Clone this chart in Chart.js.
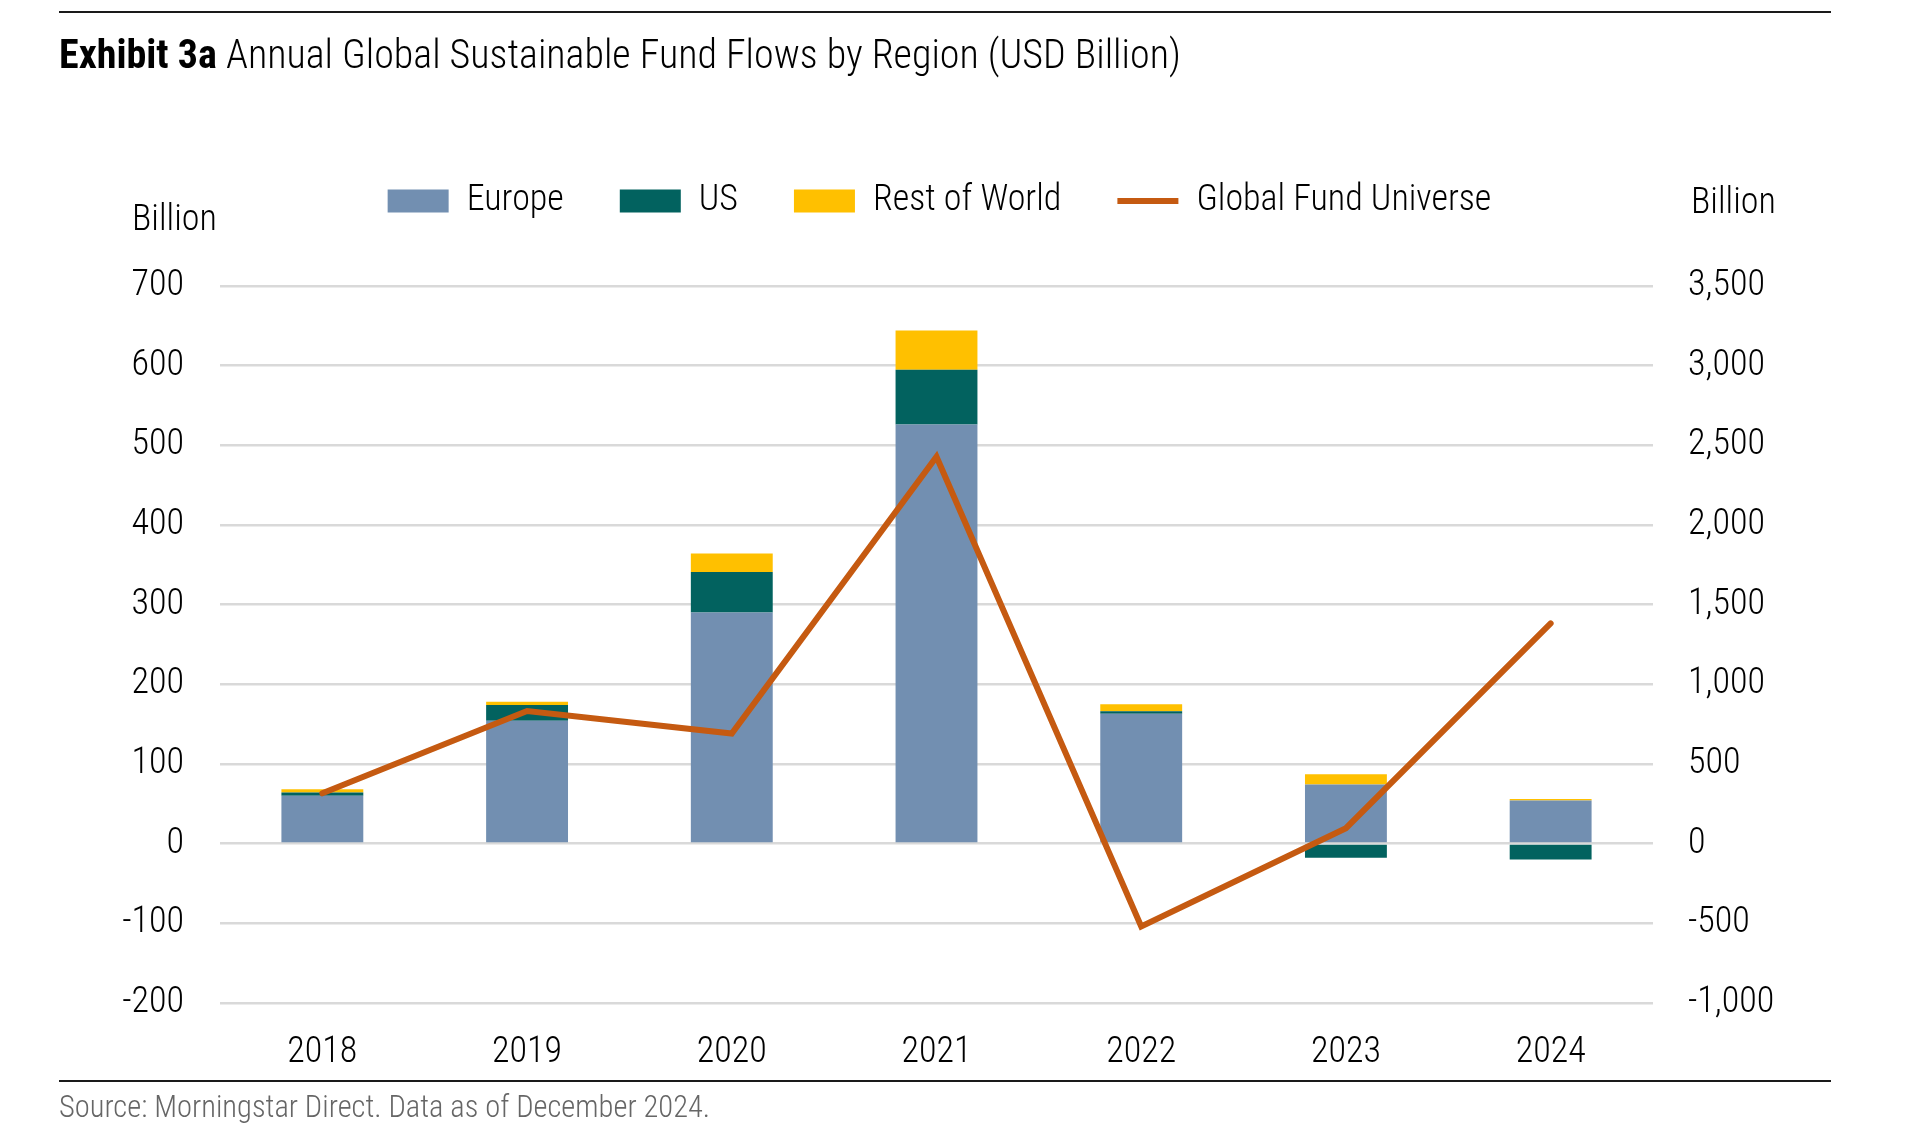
<!DOCTYPE html>
<html>
<head>
<meta charset="utf-8">
<script src="https://cdn.jsdelivr.net/npm/chart.js@4"></script>
<style>
  html, body { margin:0; padding:0; background:#fff; }
  #page { position:relative; width:1920px; height:1129px; overflow:hidden;
          font-family:"Roboto Condensed","Open Sans",sans-serif; }
  #wrap { position:absolute; left:0; top:0; width:1920px; height:1129px; }
  .rule { position:absolute; left:59px; width:1772px; height:2px; background:#1a1a1a; }
  #title { position:absolute; left:59px; top:31px; font-size:40px; color:#000; white-space:nowrap; font-weight:300; }
  #title b { font-weight:bold; }
  .unit { position:absolute; font-size:36px; color:#000; white-space:nowrap; font-weight:300; }
  #source { position:absolute; left:59px; top:1089px; font-size:30.5px; color:#666; white-space:nowrap; font-weight:300; }
</style>
</head>
<body>
<div id="page">
  <div id="wrap"><canvas id="flowChart"></canvas></div>
  <div class="rule" style="top:11px"></div>
  <div id="title"><b>Exhibit 3a</b> Annual Global Sustainable Fund Flows by Region (USD Billion)</div>
  <div class="unit" style="left:132px; top:197px">Billion</div>
  <div class="unit" style="left:1691px; top:180px">Billion</div>
  <div class="rule" style="top:1080px"></div>
  <div id="source">Source: Morningstar Direct. Data as of December 2024.</div>
</div>
<script>
const FONT = '"Roboto Condensed","Open Sans",sans-serif';

const years = ['2018', '2019', '2020', '2021', '2022', '2023', '2024'];
const europe = [60, 154, 290, 526, 163, 74, 54];
const us = [4, 20, 51, 69, 3, -18, -20];
const restOfWorld = [4, 4, 23, 49, 9, 13, 2];
const globalUniverse = [315, 832, 690, 2428, -521, 96, 1382];

// left axis -200..700, right axis -1000..3500
const leftTicks = { min: -200, max: 700, step: 100 };
const rightTicks = { min: -1000, max: 3500, step: 500 };

// legend needs extra room under it so the plot starts lower
const legendGap = {
  id: 'legendGap',
  beforeInit(chart) {
    const fit = chart.legend.fit;
    chart.legend.fit = function () {
      fit.call(this);
      this.height += 57;
    };
  }
};

const tickFont = { family: FONT, size: 36, weight: 300 };

const ctx = document.getElementById('flowChart').getContext('2d');
new Chart(ctx, {
  data: {
    labels: years,
    datasets: [
      { type: 'bar', label: 'Europe', data: europe, backgroundColor: '#728FB1', pointStyle: 'rect', order: 2, stack: 's' },
      { type: 'bar', label: 'US', data: us, backgroundColor: '#02625F', pointStyle: 'rect', order: 2, stack: 's' },
      { type: 'bar', label: 'Rest of World', data: restOfWorld, backgroundColor: '#FFC000', pointStyle: 'rect', order: 2, stack: 's' },
      {
        type: 'line', label: 'Global Fund Universe', data: globalUniverse, yAxisID: 'y1',
        borderColor: '#C55A11', backgroundColor: '#C55A11', borderWidth: 6,
        pointRadius: 0, pointStyle: 'line', borderJoinStyle: 'miter', borderCapStyle: 'round',
        tension: 0, order: 1
      }
    ]
  },
  options: {
    responsive: true,
    maintainAspectRatio: false,
    animation: false,
    datasets: { bar: { categoryPercentage: 0.4, barPercentage: 1.0, borderWidth: 0 } },
    layout: { padding: { top: 127, left: 0, right: 41, bottom: 25 } },
    plugins: {
      tooltip: { enabled: false },
      legend: {
        position: 'top',
        labels: {
          usePointStyle: true,
          pointStyleWidth: 61,
          boxHeight: 23,
          padding: 56,
          color: '#000',
          font: tickFont,
          sort: (a, b) => a.datasetIndex - b.datasetIndex
        }
      }
    },
    scales: {
      x: {
        stacked: true,
        grid: { display: false, drawTicks: false },
        border: { display: false },
        ticks: { color: '#000', padding: 29, font: tickFont }
      },
      y: {
        stacked: true,
        position: 'left',
        min: leftTicks.min, max: leftTicks.max,
        afterFit(scale) { scale.width = 220; },
        grid: { color: '#D9D9D9', lineWidth: 2.5, drawTicks: false },
        border: { display: false },
        ticks: { stepSize: leftTicks.step, color: '#000', padding: 36, font: tickFont }
      },
      y1: {
        position: 'right',
        min: rightTicks.min, max: rightTicks.max,
        afterFit(scale) { scale.width = 226; },
        grid: { display: false, drawTicks: false },
        border: { display: false },
        ticks: { stepSize: rightTicks.step, color: '#000', padding: 35, font: tickFont }
      }
    }
  },
  plugins: [legendGap]
});
</script>
</body>
</html>
